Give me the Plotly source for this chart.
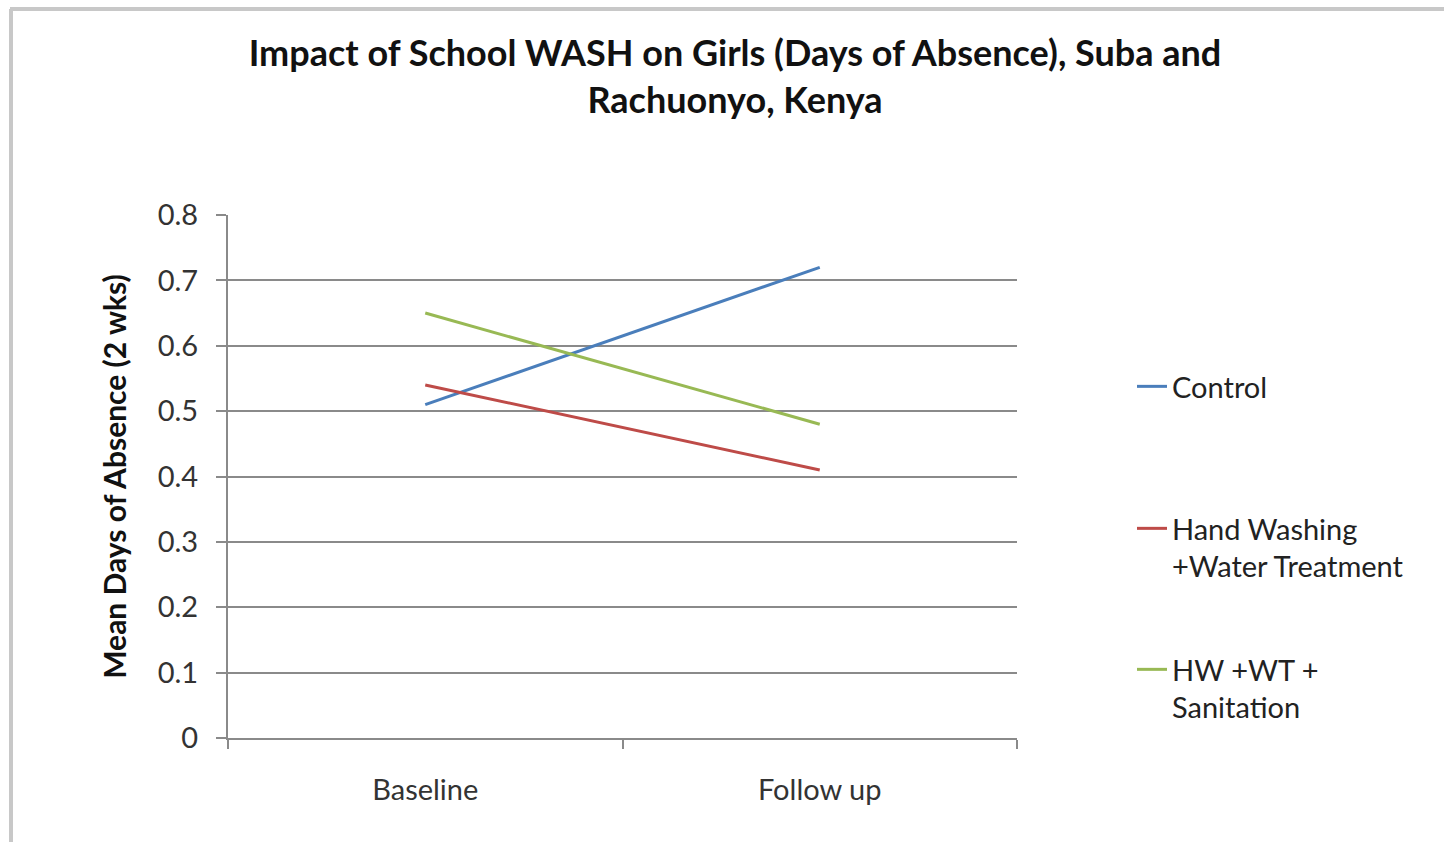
import plotly.graph_objects as go

# Survey rounds and mean days of absence (2-week recall) per study arm
rounds = ["Baseline", "Follow up"]
control = [0.51, 0.72]
hw_wt = [0.54, 0.41]
hw_wt_san = [0.65, 0.48]

series_names = ["Control", "Hand Washing<br>+Water Treatment", "HW +WT +<br>Sanitation"]
series_values = [control, hw_wt, hw_wt_san]
series_colors = ["#4a7ebb", "#be4b48", "#98b954"]

y_ticks = [0, 0.1, 0.2, 0.3, 0.4, 0.5, 0.6, 0.7, 0.8]
y_tick_labels = ["0", "0.1", "0.2", "0.3", "0.4", "0.5", "0.6", "0.7", "0.8"]

W, H = 1444, 842
L, R, T, B = 228, 427, 215, 104
PW, PH = W - L - R, H - T - B


def px_x(px):
    return (px - L) / PW


def px_y(py):
    return (H - B - py) / PH


FONT = "Lato, 'Open Sans', sans-serif"

fig = go.Figure()
legend_ids = ["legend", "legend2", "legend3"]
legend_tops = [361, 503, 644]
for name, vals, color, lid in zip(series_names, series_values, series_colors, legend_ids):
    fig.add_trace(go.Scatter(
        x=rounds, y=vals, name=name, mode="lines",
        line=dict(color=color, width=3),
        legend=lid,
    ))

legend_common = dict(
    xanchor="left", yanchor="top", x=px_x(1132),
    font=dict(family=FONT, size=29, color="#222"),
    bgcolor="rgba(0,0,0,0)", valign="top",
    tracegroupgap=0, itemwidth=30,
)

fig.update_layout(
    width=W, height=H,
    margin=dict(l=L, r=R, t=T, b=B),
    paper_bgcolor="white", plot_bgcolor="white",
    title=dict(
        text="<b>Impact of School WASH on Girls (Days of Absence), Suba and<br>Rachuonyo, Kenya</b>",
        x=735 / W, xanchor="center", y=1 - 66 / H, yanchor="top",
        font=dict(family=FONT, size=36, color="#111"),
    ),
    legend=dict(y=px_y(legend_tops[0]), **legend_common),
    legend2=dict(y=px_y(legend_tops[1]), **legend_common),
    legend3=dict(y=px_y(legend_tops[2]), **legend_common),
    xaxis=dict(
        type="category", range=[-0.5, 1.5],
        showline=True, linecolor="#8a8a8a", linewidth=2,
        ticks="outside", tickson="boundaries", ticklen=9, tickcolor="#8a8a8a", tickwidth=2,
        showgrid=False,
        tickfont=dict(family=FONT, size=29, color="#333"),
        ticklabelstandoff=25,
    ),
    yaxis=dict(
        range=[0, 0.8], tickvals=y_ticks, ticktext=y_tick_labels,
        showline=True, linecolor="#8a8a8a", linewidth=2,
        ticks="outside", ticklen=10, tickcolor="#8a8a8a", tickwidth=2,
        showgrid=True, gridcolor="#8a8a8a", gridwidth=1.5,
        zeroline=False,
        tickfont=dict(family=FONT, size=29, color="#333"),
        ticklabelstandoff=12,
        title=dict(text="<b>Mean Days of Absence (2 wks)</b>",
                   font=dict(family=FONT, size=30, color="#111"), standoff=22),
    ),
    showlegend=True,
)

# Outer frame: top and left edges
fig.add_shape(type="line", xref="paper", yref="paper",
              x0=px_x(10), x1=px_x(W + 5), y0=px_y(9), y1=px_y(9),
              line=dict(color="#c8c8c8", width=4))
fig.add_shape(type="line", xref="paper", yref="paper",
              x0=px_x(11), x1=px_x(11), y0=px_y(9), y1=px_y(H + 5),
              line=dict(color="#c8c8c8", width=4))

fig.write_html("out.html")
